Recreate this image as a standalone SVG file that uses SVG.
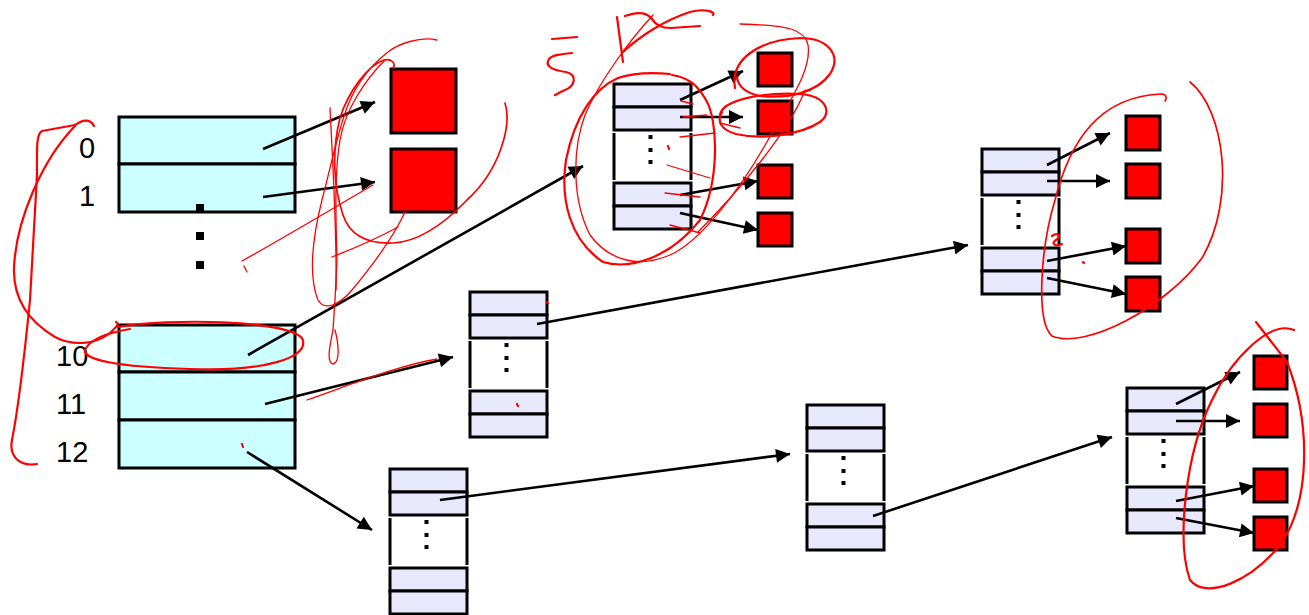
<svg xmlns="http://www.w3.org/2000/svg" xmlns:xlink="http://www.w3.org/1999/xlink" width="1309" height="615" viewBox="0 0 1309 615">
  <style>
    .dir { fill: #CCFFFF; stroke: #000; stroke-width: 3; }
    .pt { fill: #E8E8FC; stroke: #000; stroke-width: 3; }
    .side { stroke: #000; stroke-width: 3; fill: none; }
    .pg { fill: #FF0000; stroke: #000; stroke-width: 3; }
    .lbl { font-family: "Liberation Sans", Arial, sans-serif; font-size: 29px; fill: #000; }
    .arr { stroke: #000; stroke-width: 2.6; fill: none; marker-end: url(#ah); }
    .ink { stroke: #FF0000; stroke-width: 2.2; fill: none; stroke-linecap: round; stroke-linejoin: round; }
    .ink-mid { stroke: #FF0000; stroke-width: 1.7; fill: none; stroke-linecap: round; stroke-linejoin: round; }
    .ink-thin { stroke: #FF0000; stroke-width: 1.3; fill: none; stroke-linecap: round; stroke-linejoin: round; }
  </style>
  <defs>
    <marker id="ah" viewBox="0 0 10 10" refX="10" refY="5" markerWidth="17" markerHeight="14" markerUnits="userSpaceOnUse" orient="auto">
      <path d="M0,0 L10,5 L0,10 z" fill="#000"/>
    </marker>
    <!-- second-level page table: two entries, ellipsis gap, two entries -->
    <g id="ptable">
      <rect class="pt" x="0" y="0" width="77" height="23"/>
      <rect class="pt" x="0" y="23" width="77" height="23"/>
      <line class="side" x1="0" y1="49" x2="0" y2="96"/>
      <line class="side" x1="77" y1="49" x2="77" y2="96"/>
      <rect x="34.5" y="51" width="4" height="4" fill="#000"/>
      <rect x="34.5" y="64" width="4" height="4" fill="#000"/>
      <rect x="34.5" y="76" width="4" height="4" fill="#000"/>
      <rect class="pt" x="0" y="99" width="77" height="23"/>
      <rect class="pt" x="0" y="122" width="77" height="23"/>
    </g>
  </defs>

  <rect width="1309" height="615" fill="#fff"/>

  <!-- top-level directory -->
  <g id="directory">
    <rect class="dir" x="119" y="117" width="176" height="47"/>
    <rect class="dir" x="119" y="164" width="176" height="48"/>
    <rect x="196" y="204" width="8" height="8" fill="#000"/>
    <rect x="196" y="232" width="8" height="8" fill="#000"/>
    <rect x="196" y="261" width="8" height="8" fill="#000"/>
    <rect class="dir" x="119" y="325" width="176" height="47"/>
    <rect class="dir" x="119" y="372" width="176" height="48"/>
    <rect class="dir" x="119" y="420" width="176" height="48"/>
    <text class="lbl" x="79" y="158">0</text>
    <text class="lbl" x="79" y="206">1</text>
    <text class="lbl" x="56" y="366">10</text>
    <text class="lbl" x="56" y="414">11</text>
    <text class="lbl" x="56" y="462">12</text>
  </g>

  <!-- large pages -->
  <g id="page-big-0"><rect class="pg" x="391" y="69" width="65" height="64"/></g>
  <g id="page-big-1"><rect class="pg" x="391" y="149" width="65" height="63"/></g>

  <!-- second-level tables -->
  <g id="table-a"><use xlink:href="#ptable" x="614" y="84"/></g>
  <g id="table-b"><use xlink:href="#ptable" x="470" y="292"/></g>
  <g id="table-c"><use xlink:href="#ptable" x="982" y="149"/></g>
  <g id="table-d"><use xlink:href="#ptable" x="390" y="469"/></g>
  <g id="table-e"><use xlink:href="#ptable" x="807" y="405"/></g>
  <g id="table-f"><use xlink:href="#ptable" x="1127" y="388"/></g>

  <!-- small pages -->
  <g id="pages-a">
    <rect class="pg" x="758" y="53" width="34" height="33"/>
    <rect class="pg" x="758" y="101" width="34" height="33"/>
    <rect class="pg" x="758" y="165" width="34" height="33"/>
    <rect class="pg" x="758" y="213" width="34" height="33"/>
  </g>
  <g id="pages-c">
    <rect class="pg" x="1126" y="116" width="34" height="34"/>
    <rect class="pg" x="1126" y="164" width="34" height="34"/>
    <rect class="pg" x="1126" y="229" width="34" height="34"/>
    <rect class="pg" x="1126" y="277" width="34" height="34"/>
  </g>
  <g id="pages-f">
    <rect class="pg" x="1254" y="356" width="33" height="33"/>
    <rect class="pg" x="1254" y="404" width="33" height="33"/>
    <rect class="pg" x="1254" y="469" width="33" height="33"/>
    <rect class="pg" x="1254" y="517" width="33" height="33"/>
  </g>

  <!-- pointers -->
  <g id="connectors">
    <line class="arr" x1="263" y1="149" x2="375" y2="102"/>
    <line class="arr" x1="263" y1="197" x2="375" y2="182"/>
    <line class="arr" x1="248" y1="355" x2="583" y2="166"/>
    <line class="arr" x1="265" y1="404" x2="453" y2="357"/>
    <line class="arr" x1="247" y1="452" x2="372" y2="530"/>
    <line class="arr" x1="680" y1="100" x2="743" y2="71"/>
    <line class="arr" x1="680" y1="117" x2="743" y2="117"/>
    <line class="arr" x1="680" y1="195" x2="758" y2="181"/>
    <line class="arr" x1="680" y1="213" x2="758" y2="230"/>
    <line class="arr" x1="537" y1="324" x2="968" y2="245"/>
    <line class="arr" x1="1047" y1="165" x2="1110" y2="133"/>
    <line class="arr" x1="1047" y1="181" x2="1110" y2="181"/>
    <line class="arr" x1="1047" y1="261" x2="1126" y2="246"/>
    <line class="arr" x1="1047" y1="278" x2="1126" y2="294"/>
    <line class="arr" x1="440" y1="500" x2="790" y2="454"/>
    <line class="arr" x1="873" y1="516" x2="1112" y2="437"/>
    <line class="arr" x1="1176" y1="404" x2="1240" y2="372"/>
    <line class="arr" x1="1176" y1="421" x2="1240" y2="421"/>
    <line class="arr" x1="1176" y1="501" x2="1254" y2="486"/>
    <line class="arr" x1="1176" y1="518" x2="1254" y2="533"/>
  </g>

  <!-- hand annotations -->
  <g id="annotations">
    <!-- left bracket and loop around entry 10 -->
    <path class="ink" d="M94,126 C90,118 82,120 75,125 L42,131 C36,134 37,150 37,175 L30,300 C24,360 16,420 12,440 C9,455 18,467 37,464"/>
    <path class="ink" d="M75,126 C42,160 16,220 14,268 C13,300 30,322 55,337 C72,346 95,345 110,333 C116,327 120,324 116,322"/>
    <path class="ink" d="M118,327 C170,318 285,320 302,338 C312,358 262,372 190,369 C120,367 78,360 86,348 C92,338 112,332 130,329"/>
    <!-- scribbles around the large pages -->
    <path class="ink-thin" d="M242,261 C280,240 330,210 373,185"/>
    <path class="ink-thin" d="M244,266 L247,272"/>
    <path class="ink-mid" d="M505,103 C512,125 500,170 467,200 C440,228 415,242 393,243 C368,244 350,236 343,215 C333,185 332,150 340,118 C348,92 368,65 384,60 C392,58 396,64 393,68"/>
    <path class="ink-thin" d="M437,40 C420,36 398,44 388,52 C370,66 356,85 348,105 C338,130 330,170 322,200 C312,240 308,275 318,300 C325,312 340,304 352,290 C372,266 392,240 405,212"/>
    <path class="ink-thin" d="M385,60 C365,80 345,110 340,140 C334,175 336,220 337,260 L335,300 L333,330 C330,345 326,362 333,364 C340,363 339,345 335,330"/>
    <path class="ink-thin" d="M330,108 C333,170 337,230 336,290"/>
    <path class="ink-thin" d="M332,257 C355,248 378,238 398,227"/>
    <!-- stroke across entry 11 -->
    <path class="ink-thin" d="M307,400 C350,385 400,365 437,359"/>
    <!-- note written above table a -->
    <path class="ink" d="M552,39 L577,37 M572,53 C562,54 552,55 549,59 C545,65 550,70 566,72 C578,75 575,86 565,90 C560,92 557,94 555,95"/>
    <path class="ink" d="M617,17 L623,62"/>
    <path class="ink" d="M625,16 C636,12 646,12 651,18 C656,25 661,28 671,28 L700,26"/>
    <path class="ink" d="M623,52 C640,36 665,20 690,12 C705,8 716,12 713,15"/>
    <!-- loops around table a -->
    <path class="ink" d="M670,74 C650,72 630,74 618,78 C595,88 575,115 566,160 C560,200 570,240 603,262 C630,270 670,258 700,220 C720,180 718,120 706,100 C698,86 690,78 672,75"/>
    <path class="ink-thin" d="M653,15 C630,40 600,80 585,115 C572,150 572,200 590,235 C610,262 640,268 670,255 C700,242 740,190 768,140 C790,100 812,70 808,45 C805,30 790,25 740,24"/>
    <!-- loops around the first two small pages -->
    <path class="ink" d="M735,88 C730,60 758,40 800,38 C828,38 842,55 830,74 C817,92 790,99 760,96 C746,93 738,86 737,77"/>
    <path class="ink" d="M720,115 C722,100 762,92 800,94 C828,96 832,114 820,122 C800,135 762,140 736,134 C722,130 716,122 722,112"/>
    <path class="ink-thin" d="M698,232 C740,190 790,130 805,90"/>
    <!-- short marks over table a -->
    <path class="ink-thin" d="M683,117 L707,115 M680,137 L715,133 M667,165 L710,178 M665,193 L700,197 M670,225 L700,233 M681,101 L693,104 M720,123 L740,128"/>
    <path class="ink" d="M668,146 L669,149"/>
    <!-- loop around table c pages -->
    <path class="ink-mid" d="M1190,82 C1225,110 1236,200 1202,258 C1165,308 1085,350 1052,336 C1036,322 1040,250 1055,200 C1070,140 1100,96 1162,94 C1168,95 1166,100 1165,101"/>
    <path class="ink" d="M1052,236 C1058,232 1062,236 1056,240 C1050,244 1056,247 1062,244"/>
    <path class="ink" d="M1083,262 L1084,263"/>
    <!-- loop around table f pages -->
    <path class="ink" d="M1294,330 C1270,320 1232,358 1212,400 C1186,452 1176,540 1190,580 C1206,600 1250,582 1280,545 C1312,500 1310,420 1287,362 L1256,322"/>
    <!-- stray marks -->
    <path class="ink" d="M242,444 L243,447 M517,404 L518,406 M547,302 L548,303"/>
  </g>
</svg>
